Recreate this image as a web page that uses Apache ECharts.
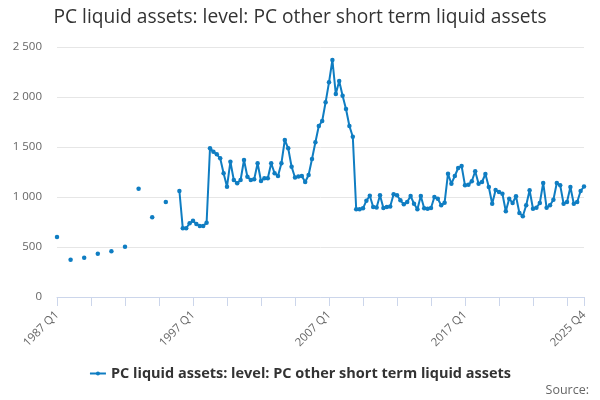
<!DOCTYPE html>
<html>
<head>
<meta charset="utf-8">
<script src="https://cdn.jsdelivr.net/npm/echarts@6/dist/echarts.min.js"></script>
<style>
    html, body { margin: 0; padding: 0; background: #fff; }
    #main { width: 600px; height: 400px; }
</style>
</head>
<body>
<div id="main"></div>
<script>
// 数据
let firstYear = 1987, lastYear = 2025;
let quarters = ['Q1', 'Q2', 'Q3', 'Q4'];
let categories = [];
for (let y = firstYear; y <= lastYear; y++) {
    for (let q = 0; q < quarters.length; q++) {
        categories.push(y + ' ' + quarters[q]);
    }
}

// one row per year, Q1..Q4 (null = no observation)
let otherShortTermAssets = [
    600, null, null, null,   // 1987
    373, null, null, null,   // 1988
    393, null, null, null,   // 1989
    433, null, null, null,   // 1990
    457, null, null, null,   // 1991
    503, null, null, null,   // 1992
    1083, null, null, null,  // 1993
    797, null, null, null,   // 1994
    950, null, null, null,   // 1995
    1060, 687, 687, 737,     // 1996
    763, 730, 710, 710,      // 1997
    743, 1487, 1453, 1427,   // 1998
    1387, 1237, 1103, 1353,  // 1999
    1170, 1137, 1170, 1370,  // 2000
    1203, 1170, 1177, 1337,  // 2001
    1160, 1187, 1187, 1337,  // 2002
    1237, 1210, 1337, 1570,  // 2003
    1487, 1303, 1195, 1205,  // 2004
    1210, 1150, 1220, 1380,  // 2005
    1547, 1710, 1760, 1947,  // 2006
    2147, 2370, 2030, 2160,  // 2007
    2013, 1880, 1710, 1603,  // 2008
    877, 877, 887, 963,      // 2009
    1013, 900, 895, 1017,    // 2010
    890, 900, 905, 1027,     // 2011
    1017, 967, 927, 950,     // 2012
    1010, 933, 877, 1010,    // 2013
    887, 883, 890, 1000,     // 2014
    983, 917, 943, 1233,     // 2015
    1133, 1210, 1290, 1310,  // 2016
    1117, 1123, 1157, 1257,  // 2017
    1133, 1150, 1230, 1100,  // 2018
    933, 1070, 1050, 1033,   // 2019
    857, 983, 940, 1007,     // 2020
    840, 807, 917, 1067,     // 2021
    883, 893, 940, 1140,     // 2022
    893, 917, 973, 1140,     // 2023
    1117, 933, 950, 1100,    // 2024
    933, 950, 1060, 1105     // 2025
];

let yTicks = [0, 500, 1000, 1500, 2000, 2500];
let seriesName = 'PC liquid assets: level: PC other short term liquid assets';
let lastIndex = categories.length - 1;

function fmtThousands(v) {
    return String(v).replace(/\B(?=(\d{3})+(?!\d))/g, ' ');
}

let myChart = echarts.init(document.getElementById('main'));
let option = {
    animation: false,
    textStyle: {fontFamily: 'Open Sans'},
    title: {
        text: seriesName,
        left: 'center',
        top: 3,
        textStyle: {
            fontFamily: 'Open Sans',
            fontSize: 19.2,
            fontWeight: 'normal',
            color: '#333'
        }
    },
    grid: {
        left: 57,
        right: 16,
        top: 47,
        bottom: 103
    },
    legend: {
        data: [{name: seriesName, itemStyle: {borderWidth: 0}}],
        bottom: 14,
        left: 'center',
        itemWidth: 16,
        itemHeight: 5,
        textStyle: {
            fontFamily: 'Open Sans',
            fontSize: 14.5,
            fontWeight: 'bold',
            color: '#333'
        }
    },
    graphic: [{
        type: 'text',
        right: 11,
        bottom: 3,
        style: {
            text: 'Source:',
            fontFamily: 'Open Sans',
            fontSize: 12.5,
            fill: '#666'
        }
    }],
    xAxis: {
        type: 'category',
        data: categories,
        boundaryGap: false,
        axisLine: {show: true, lineStyle: {color: '#ccd6eb'}},
        axisTick: {
            show: true,
            length: 9,
            lineStyle: {color: '#ccd6eb'},
            interval: function (index) {
                return index % 10 === 0 || index === lastIndex;
            }
        },
        axisLabel: {
            rotate: 45,
            margin: 16,
            fontSize: 11.5,
            color: '#666',
            interval: function (index) {
                return index % 40 === 0 || index === lastIndex;
            }
        },
        splitLine: {show: false}
    },
    yAxis: {
        type: 'value',
        min: yTicks[0],
        max: yTicks[yTicks.length - 1],
        interval: 500,
        axisLine: {show: false},
        axisTick: {show: false},
        axisLabel: {
            fontSize: 11.5,
            color: '#666',
            margin: 15,
            formatter: function (v) {
                return fmtThousands(v);
            }
        },
        splitLine: {lineStyle: {color: '#e6e6e6'}}
    },
    series: [
        {
            name: seriesName,
            type: 'line',
            data: otherShortTermAssets,
            connectNulls: false,
            showSymbol: true,
            showAllSymbol: true,
            symbol: 'circle',
            symbolSize: 4.5,
            itemStyle: {color: '#0f7dc2'},
            lineStyle: {width: 2, color: '#0f7dc2'}
        }
    ]
};
myChart.setOption(option);
</script>
</body>
</html>
